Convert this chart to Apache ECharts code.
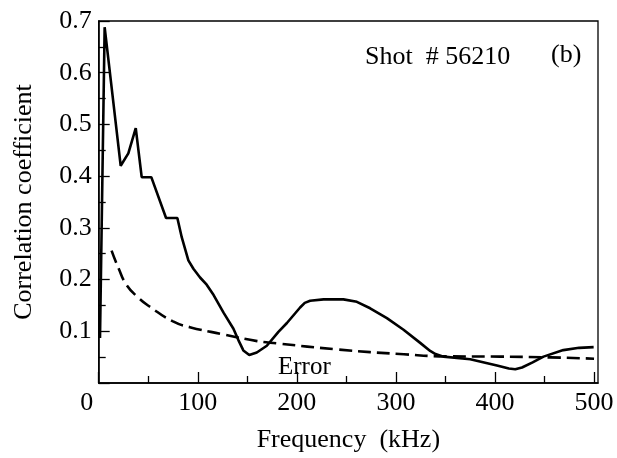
<!DOCTYPE html>
<html>
<head>
<meta charset="utf-8">
<script src="https://cdn.jsdelivr.net/npm/echarts@6/dist/echarts.min.js"></script>
<style>html,body{margin:0;padding:0;background:#fff}#c{width:617px;height:458px}</style>
</head>
<body>
<div id="c"></div>
<script>
// Solid curve: correlation coefficient
var corrFreq = [1.3, 6, 22.2, 29.9, 37.4, 43.4, 53.1, 68, 79.4, 83.8, 90.5, 95.6, 102.3, 109, 116, 126, 136, 141, 146, 152, 159.6, 169.7, 181.4, 190, 203.3, 208, 213.4, 227, 247, 260.6, 274, 290.9, 307.7, 324.5, 334.6, 340, 348, 375, 402, 414, 420.5, 427.3, 438, 449, 469, 485, 499.6];
var corrVals = [0.087, 0.688, 0.420, 0.444, 0.493, 0.398, 0.398, 0.319, 0.319, 0.282, 0.237, 0.221, 0.204, 0.190, 0.170, 0.136, 0.105, 0.083, 0.063, 0.054, 0.059, 0.072, 0.099, 0.116, 0.146, 0.155, 0.159, 0.1617, 0.1617, 0.157, 0.1445, 0.1254, 0.103, 0.0776, 0.062, 0.056, 0.051, 0.046, 0.034, 0.028, 0.0265, 0.030, 0.040, 0.051, 0.0636, 0.068, 0.0694];
// Dashed curve: error level
var errFreq = [13, 20, 28, 40, 52, 75, 92, 126, 160, 181, 240, 308, 352, 405, 456, 500];
var errVals = [0.256, 0.222, 0.190, 0.165, 0.147, 0.119, 0.108, 0.094, 0.081, 0.0765, 0.065, 0.0555, 0.0515, 0.051, 0.0495, 0.047];
// Tick values
var xMajorTicks = [0, 100, 200, 300, 400, 500];
var xMinorTicks = [50, 150, 250, 350, 450];

function zip(a, b) { return a.map(function (v, i) { return [v, b[i]]; }); }

var FONT = 'Liberation Serif';
var chart = echarts.init(document.getElementById('c'), null, {renderer: 'canvas'});
chart.setOption({
  animation: false,
  backgroundColor: '#fff',
  grid: {left: 98.7, right: 19, top: 21, bottom: 70.7, show: true, borderColor: '#000', borderWidth: 1.3, containLabel: false},
  xAxis: [{
    type: 'value', min: 0, max: 504, interval: 100,
    name: 'Frequency  (kHz)', nameLocation: 'middle', nameGap: 44,
    nameTextStyle: {fontFamily: FONT, fontSize: 26, color: '#000'},
    axisLine: {show: true, lineStyle: {color: '#000', width: 1.5}},
    axisTick: {show: true, inside: true, length: 11, customValues: xMajorTicks, lineStyle: {color: '#000', width: 1.3}},
    axisLabel: {
      customValues: xMajorTicks, margin: 7, color: '#000', fontFamily: FONT, fontSize: 26,
      formatter: function (v) { return v === 0 ? '{z|0}' : String(v); },
      rich: {z: {fontFamily: FONT, fontSize: 26, color: '#000', padding: [0, 24, 0, 0]}}
    },
    splitLine: {show: false}
  }, {
    type: 'value', min: 0, max: 504, position: 'bottom',
    axisLine: {show: false},
    axisTick: {show: true, inside: true, length: 7, customValues: xMinorTicks, lineStyle: {color: '#000', width: 1.3}},
    axisLabel: {show: false},
    splitLine: {show: false}
  }],
  yAxis: {
    type: 'value', min: 0, max: 0.7, interval: 0.1,
    name: 'Correlation coefficient', nameLocation: 'middle', nameGap: 62,
    nameTextStyle: {fontFamily: FONT, fontSize: 26, color: '#000'},
    axisLine: {show: true, lineStyle: {color: '#000', width: 1.5}},
    axisTick: {show: true, inside: true, length: 11, lineStyle: {color: '#000', width: 1.3}},
    minorTick: {show: true, splitNumber: 2, length: 7, lineStyle: {color: '#000', width: 1.3}},
    axisLabel: {
      margin: 7, color: '#000', fontFamily: FONT, fontSize: 26,
      formatter: function (v) { return v === 0 ? '' : v.toFixed(1); }
    },
    splitLine: {show: false}, minorSplitLine: {show: false}
  },
  series: [{
    name: 'Correlation', type: 'line', xAxisIndex: 0, data: zip(corrFreq, corrVals),
    showSymbol: false, symbol: 'none', smooth: false,
    lineStyle: {color: '#000', width: 2.6}, z: 3
  }, {
    name: 'Error', type: 'line', xAxisIndex: 0, data: zip(errFreq, errVals),
    showSymbol: false, symbol: 'none', smooth: true,
    lineStyle: {color: '#000', width: 2.6, type: [13, 6]}, z: 2
  }],
  graphic: [
    {type: 'text', left: 365, top: 44, style: {text: 'Shot  # 56210', font: '26px "Liberation Serif"', fill: '#000'}},
    {type: 'text', left: 551, top: 42, style: {text: '(b)', font: '26px "Liberation Serif"', fill: '#000'}},
    {type: 'text', left: 278, top: 355, style: {text: 'Error', font: '25px "Liberation Serif"', fill: '#000'}}
  ]
});
</script>
</body>
</html>
